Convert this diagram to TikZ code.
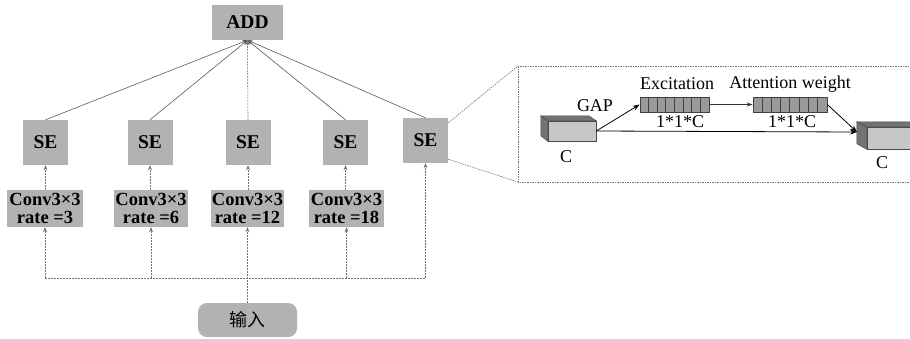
\documentclass[tikz,border=0pt]{standalone}
\usepackage{fontspec}
\setmainfont{Liberation Serif}
\newfontfamily\cjk{Noto Sans CJK SC}
\usetikzlibrary{arrows.meta,calc}
\begin{document}
\begin{tikzpicture}[x=1pt,y=-1pt,
  blk/.style={fill=black!30, inner sep=0pt, font=\fontsize{19.5}{19}\selectfont\bfseries, align=center},
  convbox/.style={blk, font=\fontsize{18.5}{18}\selectfont\bfseries, minimum height=37},
  lbl/.style={inner sep=0pt, font=\fontsize{18}{18}\selectfont},
  sol/.style={draw=black!65, line width=0.6pt, -{Stealth[length=5pt,width=4pt]}},
  dsh/.style={draw=black!55, line width=0.6pt, dash pattern=on 2pt off 1pt},
  dsharr/.style={dsh, -{Stealth[length=5pt,width=4pt]}},
  arr/.style={draw=black, line width=0.8pt, -{Stealth[length=7pt,width=5pt]}},
  thinarr/.style={draw=black!80, line width=0.5pt, -{Stealth[length=6pt,width=4pt]}},
  pan/.style={draw=black!55, line width=0.6pt, dash pattern=on 1.5pt off 1pt},
  front/.style={fill=black!22, draw=black!70, line width=0.5pt},
  side/.style={fill=black!55, draw=black!70, line width=0.5pt},
  bar/.style={fill=black!40, draw=black!75, line width=0.6pt, inner sep=0pt},
]
\useasboundingbox (0,0) rectangle (910,338);
\clip (0,0) rectangle (910,338);

% ---- left network ----
\node[blk, minimum width=71, minimum height=35] (add) at (247.5,22.5) {ADD};

\node[blk, minimum width=45, minimum height=45] (se1) at (45.5,142.5) {SE};
\node[blk, minimum width=45, minimum height=45] (se2) at (150,142.5) {SE};
\node[blk, minimum width=45, minimum height=45] (se3) at (248,142.5) {SE};
\node[blk, minimum width=45, minimum height=45] (se4) at (345.5,142.5) {SE};
\node[blk, minimum width=45, minimum height=45] (se5) at (425.5,140.5) {SE};

\node[convbox, minimum width=76] (c1) at (45,208.5) {Conv3×3\\rate =3};
\node[convbox, minimum width=74] (c2) at (151,208.5) {Conv3×3\\rate =6};
\node[convbox, minimum width=73] (c3) at (247.5,208.5) {Conv3×3\\rate =12};
\node[convbox, minimum width=75] (c4) at (346.5,208.5) {Conv3×3\\rate =18};

\node[blk, font=\cjk\fontsize{18}{18}\selectfont, minimum width=99, minimum height=34, rounded corners=9pt] (in) at (247.5,320) {输入};

\draw[sol] (se1.north) -- (add.south);
\draw[sol] (se2.north) -- (add.south);
\draw[dsharr] (se3.north) -- (add.south);
\draw[sol] (se4.north) -- (add.south);
\draw[sol] (se5.north) -- (add.south);

\draw[dsharr] (c1.north -| se1.south) -- (se1.south);
\draw[dsharr] (c2.north -| se2.south) -- (se2.south);
\draw[dsharr] (c3.north -| se3.south) -- (se3.south);
\draw[dsharr] (c4.north -| se4.south) -- (se4.south);

\coordinate (bL) at (45,278);
\coordinate (bR) at (425.5,278);
\draw[dsh] (bL) -- (bR);
\draw[dsharr] (in.north) -- (c3.south);
\draw[dsharr] (bL) -- (c1.south);
\draw[dsharr] (c2.south |- bL) -- (c2.south);
\draw[dsharr] (c4.south |- bL) -- (c4.south);
\draw[dsharr] (bR) -- (se5.south);

% ---- zoom panel ----
\coordinate (pTL) at (518,66);
\coordinate (pBL) at (518,182);
\draw[pan] (pTL) rectangle (930,182);
\draw[pan] ([yshift=-5pt]se5.north east) -- (pTL);
\draw[pan] ([yshift=4pt]se5.south east) -- (pBL);

% input cube
\node[front, minimum width=48, minimum height=20, inner sep=0pt] (cube1) at (572,131) {};
\draw[side] (cube1.north west) -- ++(-7,-5) -- ++(0,20) -- (cube1.south west) -- cycle;
\draw[side] (cube1.north west) -- ++(-7,-5) -- ++(48,0) -- (cube1.north east) -- cycle;
\node[lbl] (cl1) at (566,157) {C};
\node[lbl] (gap) at (595,106) {GAP};

% excitation bar
\node[bar, minimum width=69, minimum height=15] (exc) at (674.5,104.5) {};
\foreach \i in {1,...,7} \draw[black!75, line width=0.5pt] ($(exc.north west)+(\i*8.625,0)$) -- ++(0,15);
\node[lbl] (exct) at (677,84) {Excitation};
\node[lbl] (excd) at (680,122) {1*1*C};

% attention bar
\node[bar, minimum width=74, minimum height=15] (att) at (790,104.5) {};
\foreach \i in {1,...,7} \draw[black!75, line width=0.5pt] ($(att.north west)+(\i*9.25,0)$) -- ++(0,15);
\node[lbl] (attt) at (790,84) {Attention weight};
\node[lbl] (attd) at (792,122) {1*1*C};

% output cube
\node[front, minimum width=53, minimum height=22, inner sep=0pt] (cube2) at (893.5,138) {};
\draw[side] (cube2.north west) -- ++(-10,-5) -- ++(0,22) -- (cube2.south west) -- cycle;
\draw[side] (cube2.north west) -- ++(-10,-5) -- ++(53,0) -- (cube2.north east) -- cycle;
\node[lbl] (cl2) at (882,163) {C};
\coordinate (cin) at (857,132);

\draw[arr] (cube1.east) -- (exc.west);
\draw[thinarr] (exc.east) -- (att.west);
\draw[arr] (att.east) -- (cin);
\draw[arr] (cube1.east) -- (cin);
\end{tikzpicture}
\end{document}
